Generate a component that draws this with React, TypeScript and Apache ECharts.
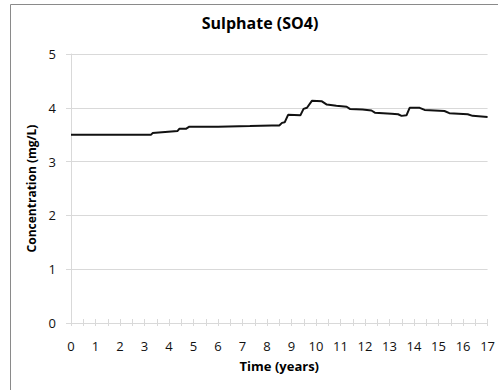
import React, { useEffect, useRef } from "react";
import * as echarts from "echarts";

const years: number[] = [0, 3.27, 3.33, 4.35, 4.42, 4.69, 4.83, 6.0, 7.3, 8.2, 8.5, 8.61, 8.72, 8.86, 9.36, 9.49, 9.63, 9.83, 10.24, 10.44, 10.83, 11.25, 11.38, 11.9, 12.26, 12.4, 13.08, 13.35, 13.49, 13.69, 13.82, 14.23, 14.43, 15.24, 15.44, 16.19, 16.39, 17];
const sulphate: number[] = [3.5, 3.5, 3.53, 3.57, 3.61, 3.61, 3.65, 3.65, 3.66, 3.67, 3.67, 3.72, 3.73, 3.87, 3.86, 3.98, 4.0, 4.13, 4.12, 4.06, 4.04, 4.02, 3.98, 3.97, 3.95, 3.91, 3.89, 3.88, 3.85, 3.86, 4.0, 4.0, 3.96, 3.94, 3.9, 3.88, 3.85, 3.83];

const titleText = "Sulphate (SO4)";
const xName = "Time (years)";
const yName = "Concentration (mg/L)";

const FONT = "'Open Sans', sans-serif";

export default function App() {
  const ref = useRef<HTMLDivElement>(null);
  useEffect(() => {
    if (!ref.current) return;
    const chart = echarts.init(ref.current, undefined, { renderer: "svg" });
    const data = years.map((t, i) => [t, sulphate[i]]);
    chart.setOption({
      animation: false,
      textStyle: { fontFamily: FONT },
      grid: { left: 71, right: 8, top: 54, bottom: 67, containLabel: false },
      graphic: [
        {
          type: "rect",
          shape: { x: 10.5, y: 4.5, width: 700, height: 700 },
          style: { fill: "none", stroke: "#8a8a8a", lineWidth: 1 },
          silent: true,
        },
        {
          type: "text",
          x: 260,
          y: 23,
          style: {
            text: titleText,
            fontFamily: FONT,
            fontSize: 16,
            fontWeight: "bold",
            fill: "#000",
            align: "center",
            verticalAlign: "middle",
          },
        },
      ],
      xAxis: [
        {
          type: "value",
          min: 0,
          max: 17,
          interval: 0.5,
          name: xName,
          nameLocation: "middle",
          nameGap: 36,
          nameTextStyle: { fontFamily: FONT, fontSize: 13, fontWeight: "bold", color: "#000" },
          axisLine: { show: true, lineStyle: { color: "#d9d9d9", width: 1 } },
          axisTick: { show: true, inside: false, length: 3, lineStyle: { color: "#d9d9d9" } },
          axisLabel: {
            margin: 16,
            fontFamily: FONT,
            fontSize: 13,
            color: "#111",
            formatter: (v: number) => (Number.isInteger(v) ? String(v) : ""),
          },
          splitLine: { show: false },
        },
        {
          type: "value",
          min: 0,
          max: 17,
          interval: 0.5,
          position: "bottom",
          axisLine: { show: false },
          axisTick: { show: true, inside: true, length: 4, lineStyle: { color: "#d9d9d9" } },
          axisLabel: { show: false },
          splitLine: { show: false },
        },
      ],
      yAxis: {
        type: "value",
        min: 0,
        max: 5,
        interval: 1,
        name: yName,
        nameLocation: "middle",
        nameGap: 29,
        nameTextStyle: { fontFamily: FONT, fontSize: 12, fontWeight: "bold", color: "#000" },
        axisLine: { show: true, lineStyle: { color: "#d9d9d9", width: 1 } },
        axisTick: { show: true, length: 5, lineStyle: { color: "#d9d9d9" } },
        axisLabel: { margin: 15, fontFamily: FONT, fontSize: 13, color: "#111" },
        splitLine: { show: true, lineStyle: { color: "#d9d9d9", width: 1 } },
      },
      series: [
        {
          type: "line",
          xAxisIndex: 0,
          data,
          showSymbol: false,
          symbol: "none",
          lineStyle: { color: "#111", width: 2 },
        },
      ],
    });
    return () => chart.dispose();
  }, []);
  return (
    <div
      ref={ref}
      style={{ position: "absolute", left: 0, top: 0, width: 498, height: 390, background: "#fff" }}
    />
  );
}
